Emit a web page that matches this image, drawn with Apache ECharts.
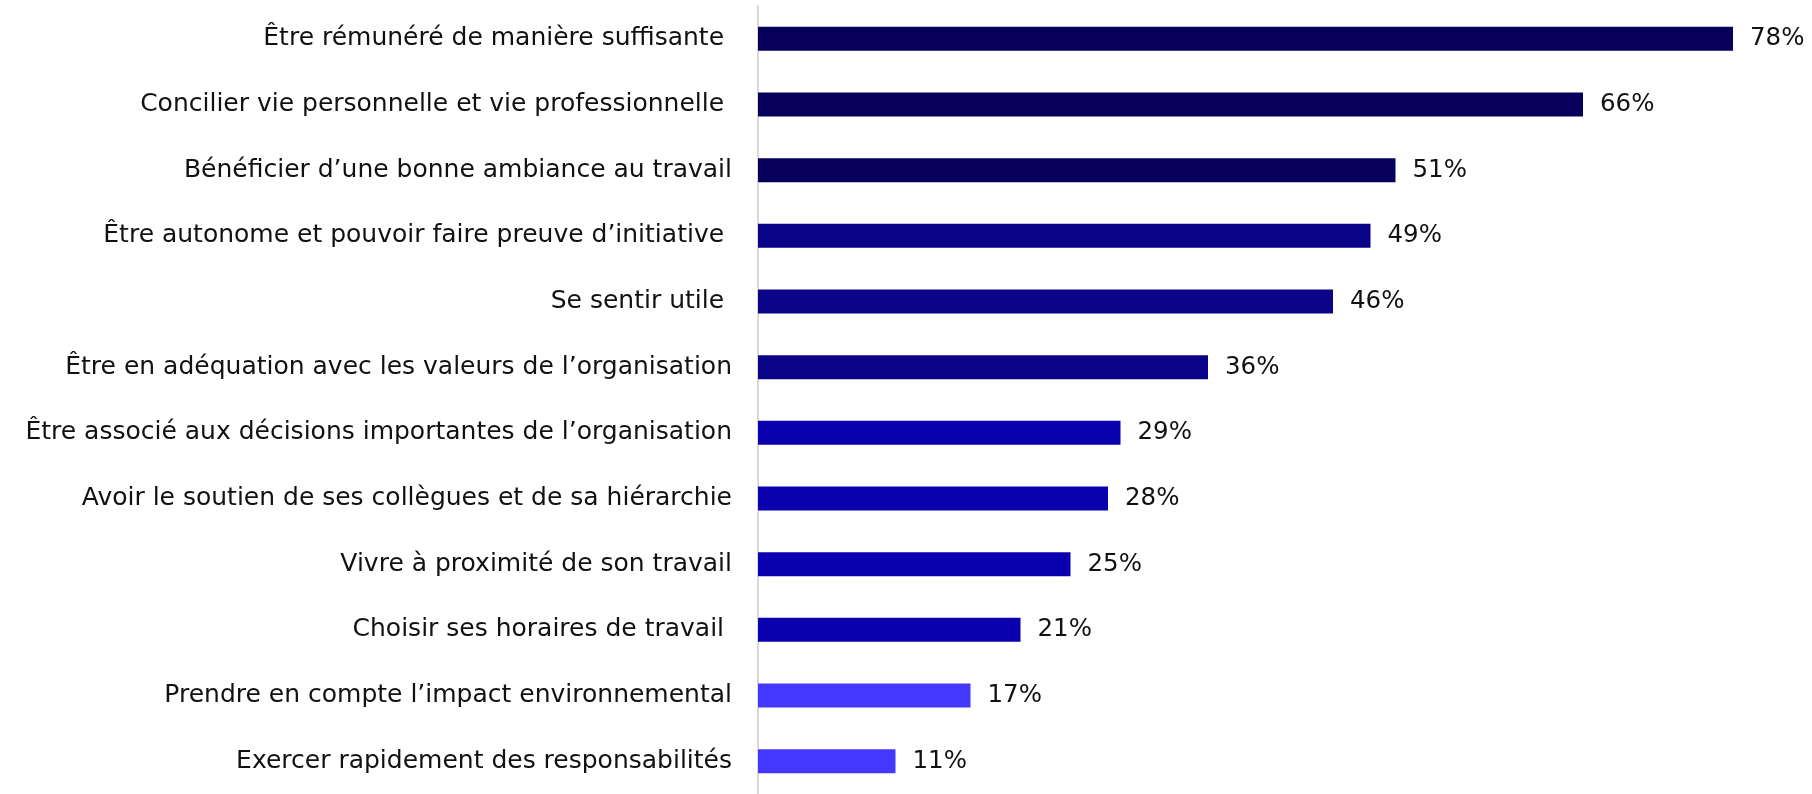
<!DOCTYPE html>
<html>
<head>
<meta charset="utf-8">
<script src="https://cdn.jsdelivr.net/npm/echarts@6/dist/echarts.min.js"></script>
<style>
  html, body { margin: 0; padding: 0; background: #ffffff; }
  #chart { width: 1812px; height: 794px; }
</style>
</head>
<body>
<div id="chart"></div>
<script>
// Motivations at work, share of respondents (%)
const categories = [
  "Être rémunéré de manière suffisante ",
  "Concilier vie personnelle et vie professionnelle ",
  "Bénéficier d’une bonne ambiance au travail",
  "Être autonome et pouvoir faire preuve d’initiative ",
  "Se sentir utile ",
  "Être en adéquation avec les valeurs de l’organisation",
  "Être associé aux décisions importantes de l’organisation",
  "Avoir le soutien de ses collègues et de sa hiérarchie",
  "Vivre à proximité de son travail",
  "Choisir ses horaires de travail ",
  "Prendre en compte l’impact environnemental",
  "Exercer rapidement des responsabilités"
];
const values = [78, 66, 51, 49, 46, 36, 29, 28, 25, 21, 17, 11];
// one colour group per bar (0 = darkest)
const groups = [0, 0, 0, 1, 1, 1, 2, 2, 2, 2, 3, 3];
const palette = ["#06005A", "#0A0388", "#0A00B0", "#4438FF"];

const FONT = "'DejaVu Sans', sans-serif";

const chart = echarts.init(document.getElementById('chart'), null, { renderer: 'canvas' });
chart.setOption({
  animation: false,
  backgroundColor: '#ffffff',
  grid: { left: 758, top: 6, width: 1050, height: 792, containLabel: false },
  xAxis: {
    type: 'value', min: 0, max: 84,
    show: false
  },
  yAxis: {
    type: 'category',
    data: categories,
    inverse: true,
    axisLine: { show: true, lineStyle: { color: '#D9D9D9', width: 2 } },
    axisTick: { show: false },
    axisLabel: {
      margin: 26,
      color: '#111111',
      fontFamily: FONT,
      fontSize: 25
    },
    splitLine: { show: false }
  },
  series: [{
    type: 'bar',
    barWidth: 24,
    data: values.map((v, i) => ({ value: v, itemStyle: { color: palette[groups[i]] } })),
    label: {
      show: true,
      position: 'right',
      distance: 17,
      formatter: p => p.value + '%',
      color: '#111111',
      fontFamily: FONT,
      fontSize: 24.5
    }
  }]
});
</script>
</body>
</html>
